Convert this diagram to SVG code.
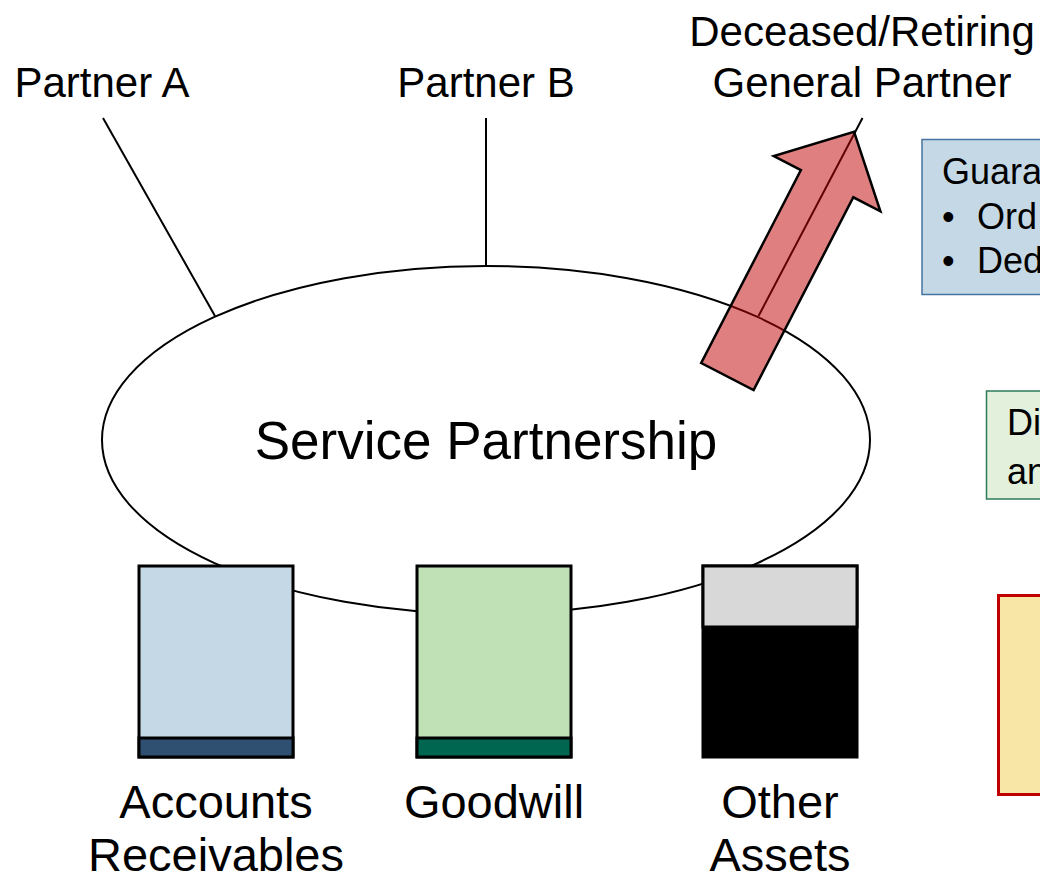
<svg xmlns="http://www.w3.org/2000/svg" width="1040" height="876" viewBox="0 0 1040 876">
<style>
text{font-family:"Liberation Sans",Arial,sans-serif;fill:#000}
.lbl{font-size:42px;text-anchor:middle}
.asset{font-size:47px;text-anchor:middle}
.side{font-size:36px}
.conn{stroke:#000;stroke-width:2;fill:none}
.box{stroke:#000;stroke-width:3}
</style>
<rect width="1040" height="876" fill="#fff"/>
<g id="partnership">
<ellipse cx="486" cy="440" rx="384" ry="174" fill="#fff" stroke="#000" stroke-width="2"/>
<text x="486" y="459" style="font-size:53px" text-anchor="middle">Service Partnership</text>
</g>
<g id="connectors">
<line class="conn" x1="103" y1="118" x2="215" y2="316"/>
<line class="conn" x1="486" y1="118" x2="486" y2="266"/>
<line class="conn" x1="758.5" y1="316" x2="862.5" y2="118"/>
</g>
<g id="partner-a"><text class="lbl" x="102" y="97">Partner A</text></g>
<g id="partner-b"><text class="lbl" x="486" y="97">Partner B</text></g>
<g id="general-partner">
<text class="lbl" x="862" y="46">Deceased/Retiring</text>
<text class="lbl" x="862" y="97">General Partner</text>
</g>
<g id="accounts-receivables">
<rect class="box" x="139" y="566" width="154" height="191" fill="#C5D8E6"/>
<rect class="box" x="139" y="738" width="154" height="19" fill="#2F5070"/>
<text class="asset" x="216" y="818">Accounts</text>
<text class="asset" x="216" y="871">Receivables</text>
</g>
<g id="goodwill">
<rect class="box" x="417" y="566" width="154" height="191" fill="#C0E0B5"/>
<rect class="box" x="417" y="738" width="154" height="19" fill="#00664F"/>
<text class="asset" x="494" y="818">Goodwill</text>
</g>
<g id="other-assets">
<rect class="box" x="703" y="566" width="154" height="191" fill="#000"/>
<rect class="box" x="703" y="566" width="154" height="61" fill="#D8D8D8"/>
<text class="asset" x="780" y="818">Other</text>
<text class="asset" x="780" y="871">Assets</text>
</g>
<g id="exit-arrow">
<polygon points="854,131.7 880.4,211.3 853.3,197.3 753.6,390.1 701.2,363 800.9,170.1 773.8,156.1" fill="#C00000" fill-opacity="0.5" stroke="#000" stroke-width="2.5" stroke-linejoin="miter"/>
</g>
<g id="guaranteed-box">
<rect x="922" y="139.5" width="140" height="155" fill="#C5D8E6" stroke="#4674A0" stroke-width="1.5"/>
<text class="side" x="942" y="184">Guara</text>
<text class="side" x="942" y="229">•</text>
<text class="side" x="977" y="229">Ord</text>
<text class="side" x="942" y="273">•</text>
<text class="side" x="977" y="273">Ded</text>
</g>
<g id="distributive-box">
<rect x="986.5" y="391" width="70" height="108" fill="#E3F0DC" stroke="#2F7A5A" stroke-width="1.5"/>
<text class="side" x="1007" y="435">Di</text>
<text class="side" x="1007" y="484">an</text>
</g>
<g id="yellow-box">
<rect x="998.5" y="595.5" width="60" height="199" fill="#F8E6A7" stroke="#C00000" stroke-width="3"/>
</g>
</svg>
